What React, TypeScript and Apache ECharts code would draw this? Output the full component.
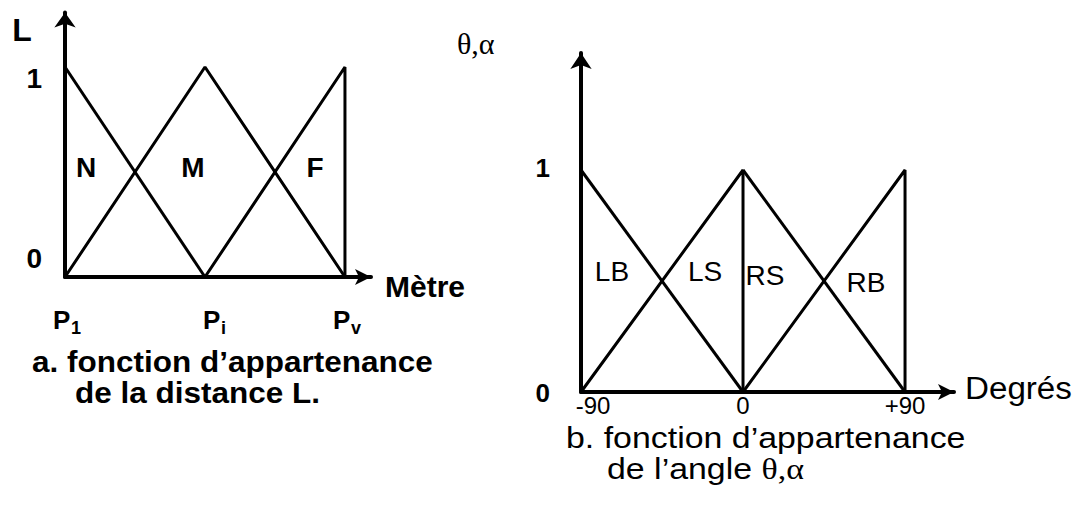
import React, { useEffect, useRef } from "react";
import * as echarts from "echarts";

// ---- distance L : membership functions over P1 .. Pv ----
const distanceTickValues = [0, 1, 2];
const distanceTickSubs = ["1", "i", "v"];
const nearSet = [[0, 1], [1, 0]];
const mediumSet = [[0, 0], [1, 1], [2, 0]];
const farSet = [[1, 0], [2, 1], [2, 0]];
const distanceSetNames = ["N", "M", "F"];
const distanceSetAnchors = [[0.15, 0.52], [0.914, 0.52], [1.786, 0.52]];

// ---- angle theta, alpha : membership functions over -90 .. +90 degrees ----
const angleTickValues = [-90, 0, 90];
const angleTickLabels = ["-90", "0", "+90"];
const leftBig = [[-90, 1], [0, 0]];
const leftSmall = [[-90, 0], [0, 1], [0, 0]];
const rightSmall = [[0, 1], [90, 0]];
const rightBig = [[0, 0], [90, 1], [90, 0]];
const angleSetNames = ["LB", "LS", "RS", "RB"];
const angleSetAnchors = [[-72.8, 0.545], [-21.1, 0.545], [12.2, 0.527], [68.3, 0.491]];

const membershipLevels = [0, 1];

const SANS = '"Liberation Sans", Arial, sans-serif';
const SERIF = '"Liberation Serif", "Times New Roman", serif';

const axisLineStyle = (arrow: number[]) => ({
  show: true,
  onZero: false,
  symbol: ["none", "arrow"],
  symbolSize: arrow,
  lineStyle: { color: "#000", width: 4 },
});

const valueAxis = (gridIndex: number, min: number, max: number, arrow: number[]) => ({
  type: "value",
  gridIndex,
  min,
  max,
  axisLine: axisLineStyle(arrow),
  axisTick: { show: false },
  axisLabel: { show: false },
  splitLine: { show: false },
});

const mfLine = (data: number[][], xAxisIndex: number) => ({
  type: "line",
  data,
  xAxisIndex,
  yAxisIndex: xAxisIndex,
  symbol: "none",
  silent: true,
  lineStyle: { color: "#000", width: 3 },
});

function txt(x: number, y: number, text: string, size: number, opts: any = {}) {
  const align = opts.align || "center";
  const vAlign = opts.vAlign || "middle";
  return {
    type: "text",
    x,
    y,
    scaleX: opts.scaleX || 1,
    silent: true,
    style: {
      text,
      fill: "#000",
      fontSize: size,
      fontFamily: opts.family || SANS,
      fontWeight: opts.weight || "normal",
      align,
      verticalAlign: vAlign,
      textAlign: align,
      textVerticalAlign: vAlign,
      rich: opts.rich,
    },
  };
}

export default function App() {
  const ref = useRef<HTMLDivElement>(null);

  useEffect(() => {
    document.body.style.margin = "0";
    const el = ref.current!;
    const chart = echarts.init(el, null, { renderer: "svg" });

    chart.setOption({
      animation: false,
      backgroundColor: "#fff",
      grid: [
        { left: 65, top: 12.4, width: 306, height: 264.6 },
        { left: 581, top: 53, width: 373, height: 339 },
      ],
      xAxis: [
        valueAxis(0, 0, 2.186, [12, 16]),
        valueAxis(1, -90, 117.2, [12, 16]),
      ],
      yAxis: [
        valueAxis(0, 0, 1.26, [16, 15]),
        valueAxis(1, 0, 1.527, [16, 16]),
      ],
      series: [
        mfLine(nearSet, 0),
        mfLine(mediumSet, 0),
        mfLine(farSet, 0),
        mfLine(leftBig, 1),
        mfLine(leftSmall, 1),
        mfLine(rightSmall, 1),
        mfLine(rightBig, 1),
      ],
    });

    const px = (g: number, x: number, y: number) =>
      chart.convertToPixel({ gridIndex: g }, [x, y]) as number[];

    const g: any[] = [];

    // left panel: axis names, levels, tick names, set names, caption
    const o0 = px(0, 0, 0);
    g.push(txt(o0[0] - 43, 30, "L", 32, { weight: "bold" }));
    membershipLevels.forEach((v) => {
      const p = px(0, 0, v);
      g.push(txt(p[0] - 23, p[1] + (v === 1 ? 11 : -19), String(v), 28, { weight: "bold", align: "right" }));
    });
    const xEnd0 = px(0, 2.186, 0);
    g.push(txt(xEnd0[0] + 14, xEnd0[1] + 9, "Mètre", 30, { weight: "bold", align: "left" }));
    const pShift = [-12, -2, -12];
    distanceTickValues.forEach((v, i) => {
      const p = px(0, v, 0);
      const x = p[0] + pShift[i];
      g.push(txt(x, p[1] + 43, "P", 26, { weight: "bold", align: "left" }));
      g.push(txt(x + 18, p[1] + 51, distanceTickSubs[i], 18, { weight: "bold", align: "left" }));
    });
    distanceSetNames.forEach((n, i) => {
      const p = px(0, distanceSetAnchors[i][0], distanceSetAnchors[i][1]);
      g.push(txt(p[0], p[1], n, 28, { weight: "bold" }));
    });
    g.push(txt(32, 362, "a. fonction d\u2019appartenance", 30, { weight: "bold", align: "left", scaleX: 1.05 }));
    g.push(txt(75, 393, "de la distance L.", 30, { weight: "bold", align: "left", scaleX: 1.05 }));

    // right panel
    const o1 = px(1, -90, 0);
    g.push(txt(o1[0] - 124, 43, "\u03b8,\u03b1", 30, { family: SERIF, align: "left" }));
    membershipLevels.forEach((v) => {
      const p = px(1, -90, v);
      g.push(txt(p[0] - 31, p[1] + (v === 1 ? -2 : 1), String(v), 26, { weight: "bold", align: "right" }));
    });
    angleTickValues.forEach((v, i) => {
      const p = px(1, v, 0);
      g.push(txt(p[0] + (i === 0 ? 12 : 0), p[1] + 13, angleTickLabels[i], 24));
    });
    const xEnd1 = px(1, 117.2, 0);
    g.push(txt(xEnd1[0] + 11, xEnd1[1] - 4, "Degrés", 31, { align: "left", scaleX: 1.07 }));
    angleSetNames.forEach((n, i) => {
      const p = px(1, angleSetAnchors[i][0], angleSetAnchors[i][1]);
      g.push(txt(p[0], p[1], n, 28));
    });
    g.push(txt(566, 438, "b. fonction d\u2019appartenance", 30, { align: "left", scaleX: 1.13 }));
    g.push(
      txt(607, 469, "{t|de l\u2019angle }{s|\u03b8,\u03b1}", 30, {
        align: "left",
        scaleX: 1.13,
        rich: {
          t: { fontSize: 30, fontFamily: SANS, fill: "#000" },
          s: { fontSize: 30, fontFamily: SERIF, fill: "#000" },
        },
      })
    );

    chart.setOption({ graphic: g });

    return () => chart.dispose();
  }, []);

  return <div ref={ref} style={{ width: 1087, height: 521 }} />;
}
